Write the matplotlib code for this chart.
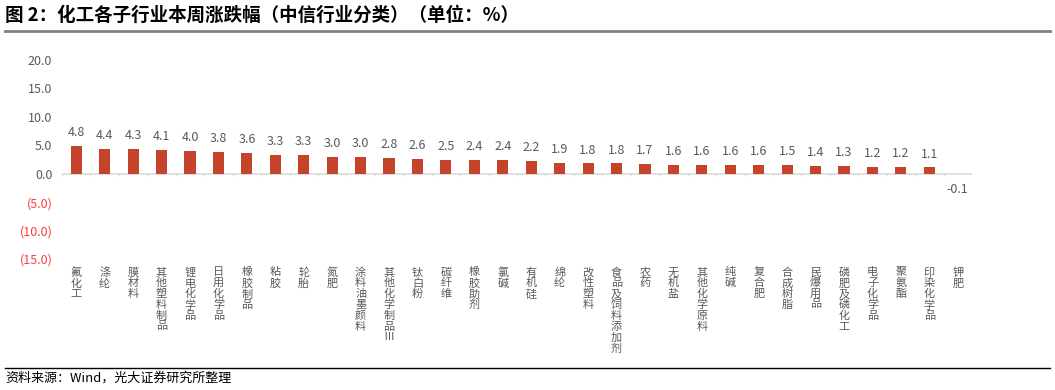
import matplotlib
matplotlib.use("Agg")
import matplotlib.pyplot as plt
import numpy as np
from matplotlib.lines import Line2D

plt.rcParams['font.family'] = ['Noto Sans CJK SC', 'DejaVu Sans']

categories = ["氟化工", "涤纶", "膜材料", "其他塑料制品", "锂电化学品", "日用化学品", "橡胶制品",
              "粘胶", "轮胎", "氮肥", "涂料油墨颜料", "其他化学制品Ⅲ", "钛白粉", "碳纤维", "橡胶助剂",
              "氯碱", "有机硅", "绵纶", "改性塑料", "食品及饲料添加剂", "农药", "无机盐", "其他化学原料",
              "纯碱", "复合肥", "合成树脂", "民爆用品", "磷肥及磷化工", "电子化学品", "聚氨酯",
              "印染化学品", "钾肥"]
values = [4.8, 4.4, 4.3, 4.1, 4.0, 3.8, 3.6, 3.3, 3.3, 3.0, 3.0, 2.8, 2.6, 2.5, 2.4, 2.4, 2.2,
          1.9, 1.8, 1.8, 1.7, 1.6, 1.6, 1.6, 1.6, 1.5, 1.4, 1.3, 1.2, 1.2, 1.1, -0.1]
yticks = [20, 15, 10, 5, 0, -5, -10, -15]

title = "图 2：化工各子行业本周涨跌幅（中信行业分类）（单位：%）"
source = "资料来源：Wind，光大证券研究所整理"

bar_color = "#C5432A"
gray = "#595959"
red = "#FF3B3B"

fig = plt.figure(figsize=(10.55, 3.9), dpi=100)
ax = fig.add_axes([62/1055, 1-259/390, (972-62)/1055, (259-60)/390])

x = np.arange(len(categories))
ax.bar(x, values, width=0.39, color=bar_color, zorder=3)
ax.set_xlim(-0.5, len(categories) - 0.5)
ax.set_ylim(-15, 20)

for s in ax.spines.values():
    s.set_visible(False)

ax.axhline(0, color="#d9d9d9", lw=1.2, zorder=2)
ax.vlines(np.arange(-0.5, len(categories) + 0.5), -0.4, 0, color="#d9d9d9", lw=1.0, zorder=2)

ax.set_yticks(yticks)
labels = []
for v in yticks:
    labels.append(f"({abs(v):.1f})" if v < 0 else f"{v:.1f}")
ax.set_yticklabels(labels, fontsize=9)
for t, v in zip(ax.get_yticklabels(), yticks):
    t.set_color(red if v < 0 else gray)
ax.tick_params(axis='y', length=0, pad=7)

ax.set_xticks(x)
ax.set_xticklabels(["\n".join(c) for c in categories], fontsize=8, color=gray,
                   linespacing=1.08, va='top')
ax.tick_params(axis='x', length=0, pad=6)

for xi, v in zip(x, values):
    if v >= 0:
        ax.annotate(f"{v:.1f}", (xi, v), xytext=(0, 5), textcoords="offset points",
                    ha='center', va='bottom', fontsize=9, color=gray)
    else:
        ax.annotate(f"{v:.1f}", (xi, v), xytext=(0, -6), textcoords="offset points",
                    ha='center', va='top', fontsize=9, color=gray)

fig.text(5/1055, 1-15/390, title, fontsize=13.3, fontweight='bold', color='black',
         ha='left', va='center')
fig.add_artist(Line2D([5/1055, 1050/1055], [1-31/390, 1-31/390], color="#808080", lw=2))
fig.add_artist(Line2D([5/1055, 1050/1055], [1-368/390, 1-368/390], color="black", lw=1))
fig.text(5/1055, 1-378/390, source, fontsize=9.4, color='black', ha='left', va='center')

fig.savefig("out.png", dpi=100)
